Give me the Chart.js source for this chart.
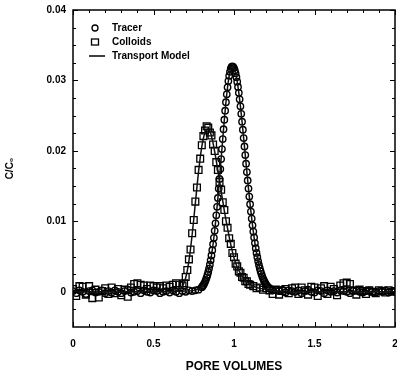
<!DOCTYPE html>
<html><head><meta charset="utf-8">
<script src="https://cdn.jsdelivr.net/npm/chart.js@4.4.1/dist/chart.umd.min.js"></script>
<style>html,body{margin:0;padding:0;background:#fff;overflow:hidden}</style>
</head><body>
<canvas id="c" width="397" height="378"></canvas>
<script>
// ---- data ----
const tracerPV = [0,0.02,0.04,0.06,0.08,0.1,0.12,0.14,0.16,0.18,0.2,0.22,0.24,0.26,0.28,0.3,0.32,0.34,0.36,0.38,0.4,0.42,0.44,0.46,0.48,0.5,0.52,0.54,0.56,0.58,0.6,0.62,0.64,0.66,0.68,0.7,0.72,0.74,0.76,0.78,
0.8,0.805,0.81,0.815,0.82,0.825,0.83,0.835,0.84,0.845,0.85,0.855,0.86,0.865,0.87,0.875,0.88,0.885,0.89,0.895,0.9,0.905,0.91,0.915,0.92,0.925,0.93,0.935,0.94,0.945,0.95,0.955,0.96,0.965,0.97,0.975,0.98,0.985,0.99,0.995,1,1.005,1.01,1.015,1.02,1.025,1.03,1.035,1.04,1.045,1.05,1.055,1.06,1.065,1.07,1.075,1.08,1.085,1.09,1.095,1.1,1.105,1.11,1.115,1.12,1.125,1.13,1.135,1.14,1.145,1.15,1.155,1.16,1.165,1.17,1.175,1.18,1.185,1.19,1.195,1.2,
1.21,1.22,1.23,1.24,
1.26,1.28,1.3,1.32,1.34,1.36,1.38,1.4,1.42,1.44,1.46,1.48,1.5,1.52,1.54,1.56,1.58,1.6,1.62,1.64,1.66,1.68,1.7,1.72,1.74,1.76,1.78,1.8,1.82,1.84,1.86,1.88,1.9,1.92,1.94,1.96,1.98,2];
const tracerC = [0.0001,-0.0002,0.0002,0,-0.0003,0.0001,0.0002,-0.0001,0,0.0002,-0.0002,0.0001,-0.0001,0.0002,0,-0.0002,0.0001,0.0003,-0.0001,0,0.0001,-0.0002,0.0002,0,-0.0001,0.0002,0.0001,-0.0002,0,0.0001,-0.0001,0.0002,0,-0.0002,0.0001,0,0.0002,0.0001,0.0002,0.0003,
0.00065,0.00079,0.00096,0.00117,0.00141,0.00169,0.00201,0.00238,0.00281,0.0033,
0.00385,0.00446,0.00515,0.0059,0.00675,0.00766,0.00865,0.00972,0.01085,0.01206,
0.01333,0.01465,0.01602,0.01742,0.01884,0.02026,0.02168,0.02307,0.02442,0.02571,
0.02692,0.02803,0.02903,0.02991,0.03065,0.03123,0.03166,0.03191,0.032,0.03194,
0.03175,0.03144,0.03101,0.03047,0.02983,0.02908,0.02824,0.02732,0.02632,0.02526,
0.02415,0.023,0.02182,0.02062,0.01941,0.01819,0.01699,0.01581,0.01465,0.01352,
0.01243,0.01139,0.01039,0.00944,0.00855,0.00771,0.00692,0.00619,0.00552,0.0049,
0.00433,0.00381,0.00335,0.00292,0.00255,0.00221,0.00191,0.00164,0.00141,0.0012,
0.00102,
0.00073,0.00051,0.00035,0.0002,
0.0002,0.0001,0.0003,-0.0001,0.0002,0.0001,0,0.0002,-0.0002,0.0001,0.0003,0,-0.0001,0.0002,0.0001,-0.0002,0.0002,0,0.0001,-0.0001,0.0002,0.0001,0,-0.0002,0.0001,0.0002,0,-0.0001,0.0001,0.0002,0,-0.0001,0.0001,0,0.0002,-0.0001,0.0001,0];

const colloidPV = [0,0.02,0.04,0.06,0.08,0.1,0.12,0.14,0.16,0.18,0.2,0.22,0.24,0.26,0.28,0.3,0.32,0.34,0.36,0.38,0.4,0.42,0.44,0.46,0.48,0.5,0.52,0.54,0.56,0.58,0.6,0.62,0.64,0.66,
0.68,0.69,0.7,0.71,0.72,0.73,0.74,0.75,0.76,0.77,0.78,0.79,0.8,0.81,0.82,0.83,0.84,0.85,0.86,0.87,0.88,0.89,0.9,0.91,0.92,0.93,0.94,0.95,0.96,0.97,0.98,0.99,1,1.01,1.02,1.03,1.04,1.05,1.06,1.07,1.08,1.09,1.1,
1.12,1.14,1.16,1.18,
1.2,1.22,1.24,1.26,1.28,1.3,1.32,1.34,1.36,1.38,1.4,1.42,1.44,1.46,1.48,1.5,1.52,1.54,1.56,1.58,1.6,1.62,1.64,1.66,1.68,1.7,1.72,1.74,1.76,1.78,1.8,1.82,1.84,1.86,1.88,1.9,1.92,1.94,1.96,1.98,2];
const colloidC = [0.0004,-0.0006,0.0008,0.0007,-0.0004,0.0008,-0.0009,0.0003,-0.0008,0.0001,0.0005,-0.0003,0.0006,-0.0002,0.0004,-0.0005,0.0003,-0.0007,0.0006,0.0011,0.0012,0.001,0.0009,0.0004,0.0009,0.0008,0.0006,0.0008,0.0005,0.0009,0.0007,0.001,0.0012,0.001,
0.0009,0.0012,0.0021,0.0031,0.0046,0.006,0.0083,0.0102,0.0128,0.0148,
0.0173,0.0189,0.0208,0.0221,0.0229,0.0235,0.0233,0.0226,0.0222,0.0209,
0.02,0.0184,0.0173,0.0156,0.0145,0.0127,0.0116,0.01,0.0091,0.0076,
0.0068,0.0055,0.0049,0.004,0.0036,0.0029,0.0027,0.0021,0.002,0.0015,
0.0015,0.0011,0.001,
0.0008,0.0005,0.0006,0.0003,
0.0005,0.0002,-0.0003,0.0003,-0.0004,0.0001,0.0004,-0.0002,0.0005,0.0006,-0.0003,0.0006,0.0002,-0.0004,0.0007,0.0006,-0.0006,0.0005,0.0008,-0.0003,0.0007,0.0004,-0.0005,0.0009,0.0012,0.0013,0.0011,0.0002,-0.0004,0.0003,0.0001,-0.0003,0.0002,0,-0.0002,0.0002,0.0001,-0.0001,0.0002,0,0.0001];

const tracerModelPV = [0,0.7,0.75,0.78,0.8,0.81,0.82,0.83,0.84,0.85,0.86,0.87,0.88,0.89,0.9,0.91,0.92,0.93,0.94,0.95,0.96,0.97,0.98,0.99,1,1.01,1.02,1.03,1.04,1.05,1.06,1.07,1.08,1.09,1.1,1.11,1.12,1.13,1.14,1.15,1.16,1.17,1.18,1.19,1.2,1.22,1.25,1.3,2];
const tracerModelC = [0,0.0001,0.0002,0.0004,0.00065,0.00096,0.00141,0.00201,0.00281,0.00385,0.00515,0.00675,0.00865,0.01085,0.01333,0.01602,0.01884,0.02168,0.02442,0.02692,0.02903,0.03065,0.03166,0.032,0.03175,0.03101,0.02983,0.02824,0.02632,0.02415,0.02182,0.01941,0.01699,0.01465,0.01243,0.01039,0.00855,0.00692,0.00552,0.00433,0.00335,0.00255,0.00191,0.00141,0.00102,0.00051,0.0002,0,0];
const colloidModelPV = [0,0.6,0.65,0.67,0.68,0.69,0.7,0.71,0.72,0.73,0.74,0.75,0.76,0.77,0.78,0.79,0.8,0.81,0.82,0.83,0.84,0.85,0.86,0.87,0.88,0.89,0.9,0.91,0.92,0.93,0.94,0.95,0.96,0.97,0.98,0.99,1,1.02,1.04,1.06,1.08,1.1,1.14,1.18,1.25,1.35,2];
const colloidModelC = [0,0,0.0002,0.0005,0.0008,0.0013,0.002,0.003,0.0044,0.0061,0.0081,0.0103,0.0126,0.0149,0.0171,0.019,0.0206,0.0218,0.0226,0.023,0.0231,0.0228,0.0221,0.0211,0.0199,0.0186,0.0172,0.0158,0.0143,0.0129,0.0115,0.0102,0.009,0.0078,0.0067,0.0057,0.0048,0.0035,0.0026,0.0019,0.0014,0.001,0.0006,0.0004,0.0001,0,0];

const xTicks = [0,0.5,1,1.5,2];
const xTickLabels = ['0','0.5','1','1.5','2'];
const xMinorTicks = [0.1,0.2,0.3,0.4,0.6,0.7,0.8,0.9,1.1,1.2,1.3,1.4,1.6,1.7,1.8,1.9];
const yTicks = [0,0.01,0.02,0.03,0.04];
const yTickLabels = ['0','0.01','0.02','0.03','0.04'];
const yMinorTicks = [-0.0025,0.0025,0.005,0.0075,0.0125,0.015,0.0175,0.0225,0.025,0.0275,0.0325,0.035,0.0375];
const legendLabels = ['Tracer','Colloids','Transport Model'];

function pts(xs, ys){ const n=Math.min(xs.length, ys.length); const o=[]; for(let i=0;i<n;i++) o.push({x:xs[i], y:ys[i]}); return o; }

const FONT = "'Liberation Sans', Arial, Helvetica, sans-serif";
Chart.defaults.font.family = FONT;
Chart.defaults.color = '#000';

const framePlugin = {
  id:'frame',
  afterDraw(chart){
    const {ctx, chartArea:a, scales:{x, y}} = chart;
    ctx.save();
    ctx.strokeStyle = '#000';
    ctx.lineWidth = 1.5;
    ctx.strokeRect(a.left, a.top, a.right - a.left, a.bottom - a.top);
    ctx.lineWidth = 1;
    ctx.beginPath();
    const tx = (v, len) => { const p = Math.round(x.getPixelForValue(v)) + 0.5;
      ctx.moveTo(p, a.bottom); ctx.lineTo(p, a.bottom - len);
      ctx.moveTo(p, a.top); ctx.lineTo(p, a.top + len); };
    const ty = (v, len) => { const p = Math.round(y.getPixelForValue(v)) + 0.5;
      ctx.moveTo(a.left, p); ctx.lineTo(a.left + len, p);
      ctx.moveTo(a.right, p); ctx.lineTo(a.right - len, p); };
    xTicks.forEach(v => tx(v, 5)); xMinorTicks.forEach(v => tx(v, 3));
    yTicks.forEach(v => ty(v, 5)); yMinorTicks.forEach(v => ty(v, 3));
    ctx.stroke();
    // legend
    const lx = 95, ly = [28, 42, 56];
    ctx.lineWidth = 1.3;
    ctx.beginPath(); ctx.arc(lx, ly[0], 3, 0, Math.PI*2); ctx.stroke();
    ctx.strokeRect(lx - 3.5, ly[1] - 3, 7, 6);
    ctx.lineWidth = 1.5;
    ctx.beginPath(); ctx.moveTo(89, ly[2]); ctx.lineTo(105, ly[2]); ctx.stroke();
    ctx.fillStyle = '#000';
    ctx.font = 'bold 10px ' + FONT;
    ctx.textBaseline = 'middle'; ctx.textAlign = 'left';
    legendLabels.forEach((t, i) => ctx.fillText(t, 112, ly[i] + 0.5));
    ctx.restore();
  }
};

new Chart(document.getElementById('c'), {
  type: 'scatter',
  data: { datasets: [
    { label:'Tracer model', type:'line', data: pts(tracerModelPV, tracerModelC), borderColor:'#111', borderWidth:1.5, pointRadius:0, cubicInterpolationMode:'monotone', fill:false },
    { label:'Colloid model', type:'line', data: pts(colloidModelPV, colloidModelC), borderColor:'#111', borderWidth:1.5, pointRadius:0, cubicInterpolationMode:'monotone', fill:false },
    { label:'Tracer', data: pts(tracerPV, tracerC), pointStyle:'circle', pointRadius:3.2, borderWidth:1.4, borderColor:'#000', backgroundColor:'rgba(0,0,0,0)', showLine:false },
    { label:'Colloids', data: pts(colloidPV, colloidC), pointStyle:'rect', pointRadius:4.8, borderWidth:1.3, borderColor:'#000', backgroundColor:'rgba(0,0,0,0)', showLine:false }
  ]},
  options: {
    responsive:false, animation:false, devicePixelRatio:1,
    layout:{ autoPadding:false, padding:{ top:10, right:2, left:0, bottom:0 } },
    plugins:{ legend:{display:false}, tooltip:{enabled:false} },
    scales:{
      x:{ type:'linear', min:0, max:2,
        afterBuildTicks: s => { s.ticks = xTicks.map(v => ({value:v})); },
        afterFit: s => { s.height = 51; s.paddingLeft = 0; s.paddingRight = 0; },
        ticks:{ callback:(v,i) => xTickLabels[i], font:{size:10, weight:'bold'}, color:'#000', padding:11, maxRotation:0, autoSkip:false },
        grid:{ display:false, drawTicks:false }, border:{ display:false },
        title:{ display:true, text:'PORE VOLUMES', font:{size:12, weight:'bold'}, color:'#000', padding:{top:0, bottom:4} }
      },
      y:{ type:'linear', min:-0.005, max:0.04,
        afterBuildTicks: s => { s.ticks = yTicks.map(v => ({value:v})); },
        afterFit: s => { s.width = 73; s.paddingTop = 0; s.paddingBottom = 0; },
        ticks:{ callback:(v,i) => yTickLabels[i], font:{size:10, weight:'bold'}, color:'#000', padding:7, autoSkip:false },
        grid:{ display:false, drawTicks:false }, border:{ display:false },
        title:{ display:true, text:'C/C\u2080', font:{size:10, weight:'bold'}, color:'#000', padding:{top:4, bottom:0} }
      }
    }
  },
  plugins:[framePlugin]
});
</script>
</body></html>
